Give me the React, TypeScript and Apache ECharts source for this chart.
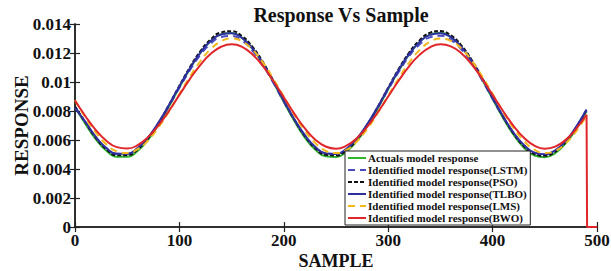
import { useEffect, useRef } from "react";
import * as echarts from "echarts";

const samples = [0, 10, 20, 30, 40, 50, 60, 70, 80, 90, 100, 110, 120, 130, 140, 150, 160, 170, 180, 190, 200, 210, 220, 230, 240, 250, 260, 270, 280, 290, 300, 310, 320, 330, 340, 350, 360, 370, 380, 390, 400, 410, 420, 430, 440, 450, 460, 470, 480, 490];

const actual = [0.0083, 0.0071, 0.00604, 0.00526, 0.00485, 0.00485, 0.00525, 0.00601, 0.00707, 0.00831, 0.00963, 0.0109, 0.012, 0.01282, 0.0133, 0.01338, 0.01304, 0.0123, 0.01125, 0.00998, 0.00862, 0.00732, 0.00618, 0.00534, 0.00488, 0.00483, 0.0052, 0.00593, 0.00695, 0.00818, 0.0095, 0.01077, 0.0119, 0.01276, 0.01327, 0.01339, 0.0131, 0.01242, 0.0114, 0.01017, 0.00883, 0.00752, 0.00636, 0.00547, 0.00493, 0.00481, 0.0051, 0.00577, 0.00676, 0.00798];

const lstm = [0.0083, 0.0072, 0.00618, 0.00544, 0.00505, 0.00505, 0.00543, 0.00616, 0.00716, 0.00835, 0.0096, 0.01081, 0.01186, 0.01265, 0.01311, 0.01318, 0.01286, 0.01215, 0.01115, 0.00994, 0.00864, 0.0074, 0.00632, 0.00552, 0.00507, 0.00503, 0.00538, 0.00607, 0.00705, 0.00822, 0.00948, 0.01069, 0.01177, 0.01259, 0.01308, 0.01319, 0.01291, 0.01226, 0.0113, 0.01012, 0.00884, 0.00759, 0.00649, 0.00564, 0.00513, 0.00501, 0.00528, 0.00592, 0.00687, 0.00803];

const pso = [0.0083, 0.00721, 0.00614, 0.00536, 0.00495, 0.00495, 0.00535, 0.00612, 0.00717, 0.00842, 0.00974, 0.01101, 0.01211, 0.01294, 0.01342, 0.0135, 0.01316, 0.01242, 0.01137, 0.01009, 0.00873, 0.00742, 0.00629, 0.00544, 0.00498, 0.00493, 0.0053, 0.00603, 0.00706, 0.00828, 0.00961, 0.01089, 0.01202, 0.01287, 0.01339, 0.01351, 0.01322, 0.01253, 0.01152, 0.01028, 0.00894, 0.00762, 0.00646, 0.00557, 0.00503, 0.00491, 0.0052, 0.00587, 0.00686, 0.00809];

const tlbo = [0.0082, 0.00725, 0.00621, 0.00545, 0.00505, 0.00505, 0.00544, 0.00618, 0.00721, 0.00842, 0.00971, 0.01094, 0.01201, 0.01282, 0.01328, 0.01336, 0.01303, 0.01231, 0.01129, 0.01005, 0.00872, 0.00745, 0.00635, 0.00553, 0.00508, 0.00503, 0.00539, 0.0061, 0.0071, 0.00829, 0.00958, 0.01082, 0.01192, 0.01275, 0.01325, 0.01337, 0.01309, 0.01242, 0.01144, 0.01023, 0.00893, 0.00765, 0.00652, 0.00565, 0.00513, 0.00501, 0.00529, 0.00594, 0.00691, 0.0081];

const lms = [0.00874, 0.00755, 0.00651, 0.0057, 0.00522, 0.00511, 0.00537, 0.00597, 0.00687, 0.00797, 0.00917, 0.01036, 0.01143, 0.01227, 0.01281, 0.013, 0.0128, 0.01223, 0.01134, 0.01022, 0.00899, 0.00776, 0.00666, 0.0058, 0.00526, 0.0051, 0.00532, 0.0059, 0.00677, 0.00786, 0.00905, 0.01024, 0.01133, 0.0122, 0.01277, 0.013, 0.01284, 0.01232, 0.01147, 0.01039, 0.00917, 0.00795, 0.00683, 0.00593, 0.00533, 0.0051, 0.00525, 0.00577, 0.0066, 0.00767];

const bwo = [0.00872, 0.00764, 0.00668, 0.00595, 0.00551, 0.00541, 0.00564, 0.0062, 0.00701, 0.00801, 0.00911, 0.0102, 0.01117, 0.01194, 0.01243, 0.0126, 0.01242, 0.0119, 0.01109, 0.01007, 0.00894, 0.00782, 0.00682, 0.00603, 0.00555, 0.0054, 0.00561, 0.00613, 0.00692, 0.00791, 0.009, 0.01009, 0.01108, 0.01187, 0.01239, 0.0126, 0.01246, 0.01198, 0.01121, 0.01022, 0.00911, 0.008, 0.00698, 0.00616, 0.00561, 0.0054, 0.00554, 0.00601, 0.00677, 0.00774];
const bwoTailX = [490, 490.5, 500];
const bwoTailY = [0.00774, 0, 0];

const xTicks = [0, 100, 200, 300, 400, 500];
const yTicks = [0, 0.002, 0.004, 0.006, 0.008, 0.01, 0.012, 0.014];

const names = [
  "Actuals model response",
  "Identified model response(LSTM)",
  "Identified model response(PSO)",
  "Identified model response(TLBO)",
  "Identified model response(LMS)",
  "Identified model response(BWO)",
];

const FONT = "Liberation Serif, Times New Roman, serif";

export default function App() {
  const ref = useRef<HTMLDivElement>(null);
  useEffect(() => {
    const chart = echarts.init(ref.current!, null, { renderer: "svg" });
    const pairs = (ys: number[]) => samples.map((x, i) => [x, ys[i]]);
    const mk = (name: string, data: number[][], color: string, type: any, width: number, smooth: any) => ({
      name,
      type: "line",
      data,
      symbol: "none",
      smooth,
      lineStyle: { color, width, type },
      itemStyle: { color },
    });
    const axisLine = { show: true, lineStyle: { color: "#222", width: 1.5 } };
    const tick = { inside: true, length: 5, lineStyle: { color: "#222", width: 1.2 } };
    chart.setOption({
      animation: false,
      backgroundColor: "#fff",
      title: {
        text: "Response Vs Sample",
        left: 336,
        textAlign: "center",
        top: 0,
        textStyle: { fontFamily: FONT, fontWeight: "bold", fontSize: 20, color: "#111" },
      },
      grid: { left: 75, right: 14, top: 24, bottom: 44, containLabel: false, outerBoundsMode: "none" },
      legend: {
        orient: "vertical",
        left: 345,
        top: 151,
        data: names,
        itemWidth: 18,
        itemHeight: 10,
        itemGap: 0,
        padding: [1, 3, 1, 2],
        backgroundColor: "#fff",
        borderColor: "#222",
        borderWidth: 1,
        borderRadius: 0,
        itemStyle: { opacity: 0 },
        textStyle: { fontFamily: FONT, fontWeight: "bold", fontSize: 11, color: "#111", lineHeight: 12, padding: [0, 0, 0, -3] },
      },
      xAxis: [
        {
          type: "value",
          min: xTicks[0],
          max: xTicks[xTicks.length - 1],
          interval: 100,
          name: "SAMPLE",
          nameLocation: "middle",
          nameGap: 25,
          nameMoveOverlap: false,
          nameTextStyle: { fontFamily: FONT, fontWeight: "bold", fontSize: 18, lineHeight: 18, color: "#111" },
          axisLine,
          axisTick: tick,
          axisLabel: { fontFamily: FONT, fontWeight: "bold", fontSize: 17, color: "#111", margin: 5 },
          splitLine: { show: false },
        },
        {
          type: "value",
          position: "top",
          min: xTicks[0],
          max: xTicks[xTicks.length - 1],
          interval: 100,
          axisLine,
          axisTick: tick,
          axisLabel: { show: false },
          splitLine: { show: false },
        },
      ],
      yAxis: [
        {
          type: "value",
          min: yTicks[0],
          max: yTicks[yTicks.length - 1],
          interval: 0.002,
          name: "RESPONSE",
          nameLocation: "middle",
          nameGap: 44,
          nameMoveOverlap: false,
          nameTextStyle: { fontFamily: FONT, fontWeight: "bold", fontSize: 19, color: "#111" },
          axisLine,
          axisTick: tick,
          axisLabel: {
            fontFamily: FONT, fontWeight: "bold", fontSize: 17, color: "#111",
            margin: 4,
            formatter: (v: number) => String(Math.round(v * 1000) / 1000),
          },
          splitLine: { show: false },
        },
        {
          type: "value",
          position: "right",
          min: yTicks[0],
          max: yTicks[yTicks.length - 1],
          interval: 0.002,
          axisLine,
          axisTick: tick,
          axisLabel: { show: false },
          splitLine: { show: false },
        },
      ],
      series: [
        mk(names[0], pairs(actual), "#2fb52f", "solid", 2, 0.5),
        mk(names[1], pairs(lstm), "#4a4ac0", [7, 5], 2, 0.5),
        mk(names[2], pairs(pso), "#111111", [4, 2], 2, 0.5),
        mk(names[3], pairs(tlbo), "#2f2fa0", "solid", 2, 0.5),
        mk(names[4], pairs(lms), "#f2b81c", [7, 5], 2, 0.5),
        mk(names[5], pairs(bwo), "#e0262a", "solid", 2, 0.5),
        mk("bwo-tail", bwoTailX.map((x, i) => [x, bwoTailY[i]]), "#e0262a", "solid", 2, false),
      ],
    });
    return () => chart.dispose();
  }, []);
  return <div ref={ref} style={{ position: "fixed", left: 0, top: 0, width: 611, height: 271 }} />;
}
